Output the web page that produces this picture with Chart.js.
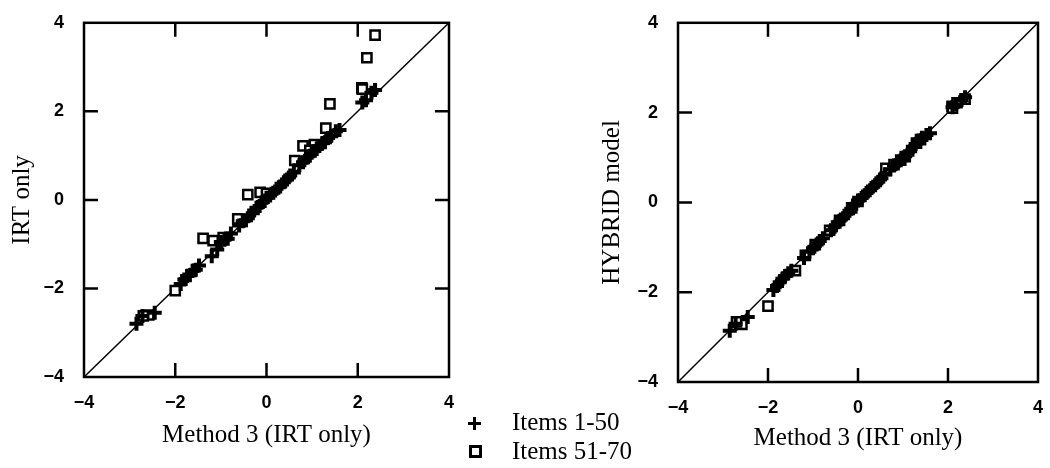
<!DOCTYPE html>
<html>
<head>
<meta charset="utf-8">
<script src="https://cdn.jsdelivr.net/npm/chart.js@4.4.0/dist/chart.umd.min.js"></script>
<style>
  body { margin: 0; background: #fff; width: 1050px; height: 468px; position: relative; overflow: hidden; }
  canvas { position: absolute; top: 0; }
  #left { left: 0; }
  #right { left: 580px; }
  .legend { position: absolute; left: 466px; font-family: "Liberation Serif", "Times New Roman", serif; font-size: 25px; color: #000; }
  .legend .row { position: relative; height: 28px; line-height: 28px; padding-left: 46px; white-space: nowrap; }
  .plus { position: absolute; left: 2px; top: 9px; width: 13px; height: 13px; }
  .plus:before { content: ""; position: absolute; left: 0; top: 5px; width: 13px; height: 3px; background: #000; }
  .plus:after { content: ""; position: absolute; left: 5px; top: 0; width: 3px; height: 13px; background: #000; }
  .square { position: absolute; left: 3px; top: 8px; width: 7px; height: 7px; border: 3px solid #000; }
</style>
</head>
<body>
<canvas id="left" width="470" height="468"></canvas>
<canvas id="right" width="470" height="468"></canvas>
<div class="legend" style="top:408px">
  <div class="row"><span class="plus"></span>Items 1-50</div>
  <div class="row" style="margin-top:1px"><span class="square"></span>Items 51-70</div>
</div>
<script>
// axis range and ticks (both panels)
var axisMin = -4, axisMax = 4, tickStep = 2;
var diagonal = [-4, 4];

// Items 1-50: Method 3 (IRT only) estimates
var items1X = [-2.85, -2.72, -2.45, -1.88, -1.80, -1.74, -1.68, -1.62, -1.55, -1.48,
               -1.20, -1.08, -1.00, -0.92, -0.85, -0.78, -0.60, -0.52, -0.45, -0.38,
               -0.30, -0.22, -0.15, -0.08, 0.00, 0.08, 0.15, 0.22, 0.30, 0.38,
               0.45, 0.52, 0.60, 0.72, 0.80, 0.88, 0.95, 1.02, 1.10, 1.16,
               1.22, 1.28, 1.35, 1.42, 1.52, 1.60, 2.10, 2.18, 2.30, 2.38];
// left panel: IRT only
var items1IRT = [-2.80, -2.62, -2.55, -1.90, -1.80, -1.72, -1.70, -1.60, -1.58, -1.48,
                 -1.27, -1.12, -0.95, -0.90, -0.88, -0.76, -0.58, -0.48, -0.46, -0.35,
                 -0.30, -0.18, -0.14, -0.05, 0.05, 0.10, 0.16, 0.25, 0.30, 0.40,
                 0.46, 0.55, 0.62, 0.78, 0.85, 0.95, 1.00, 1.10, 1.15, 1.22,
                 1.28, 1.30, 1.40, 1.45, 1.55, 1.58, 2.20, 2.25, 2.42, 2.48];
// right panel: HYBRID model
var items1Hybrid = [-2.86, -2.70, -2.55, -1.95, -1.86, -1.78, -1.70, -1.64, -1.58, -1.52,
                    -1.24, -1.10, -1.02, -0.94, -0.86, -0.80, -0.62, -0.54, -0.44, -0.38,
                    -0.30, -0.24, -0.14, -0.06, 0.04, 0.10, 0.16, 0.24, 0.32, 0.38,
                    0.46, 0.54, 0.62, 0.74, 0.82, 0.90, 0.94, 1.00, 1.06, 1.14,
                    1.24, 1.30, 1.38, 1.44, 1.50, 1.54, 2.12, 2.18, 2.28, 2.34];

// Items 51-70
var items2X = [2.38, 2.20, 2.09, 1.39, 1.30, 0.80, 0.62, -0.41, -0.14, -0.63,
               -1.39, -1.17, -2.00, -2.58, 1.05, 0.95, 0.00, 2.10, -0.95, -2.70];
var items2IRT = [3.72, 3.21, 2.53, 2.17, 1.62, 1.22, 0.89, 0.12, 0.17, -0.43,
                 -0.87, -0.92, -2.05, -2.60, 1.25, 1.12, 0.15, 2.50, -0.85, -2.62];
var items2Hybrid = [2.30, 2.22, 2.14, 1.40, 1.32, 0.84, 0.76, -0.40, -0.12, -0.62,
                    -1.52, -1.18, -2.31, -2.72, 1.02, 0.94, 0.02, 2.10, -0.94, -2.66];

function pairs(xs, ys) {
  return xs.map(function (x, i) { return {x: x, y: ys[i]}; });
}

function tickText(v) {
  return v < 0 ? '\u2212' + Math.abs(v) : String(v);
}

// box around the plot with short inward ticks on all four sides
var framePlugin = {
  id: 'frame',
  afterDraw: function (chart) {
    var ctx = chart.ctx, a = chart.chartArea;
    var xs = chart.scales.x, ys = chart.scales.y, len = 14;
    ctx.save();
    ctx.strokeStyle = '#000';
    ctx.lineWidth = 2.5;
    ctx.strokeRect(a.left, a.top, a.right - a.left, a.bottom - a.top);
    ctx.beginPath();
    xs.ticks.forEach(function (t) {
      if (t.value <= axisMin || t.value >= axisMax) return;
      var px = xs.getPixelForValue(t.value);
      ctx.moveTo(px, a.bottom); ctx.lineTo(px, a.bottom - len);
      ctx.moveTo(px, a.top); ctx.lineTo(px, a.top + len);
    });
    ys.ticks.forEach(function (t) {
      if (t.value <= axisMin || t.value >= axisMax) return;
      var py = ys.getPixelForValue(t.value);
      ctx.moveTo(a.left, py); ctx.lineTo(a.left + len, py);
      ctx.moveTo(a.right, py); ctx.lineTo(a.right - len, py);
    });
    ctx.stroke();
    ctx.restore();
  }
};

function makePanel(id, yTitle, plusY, squareY, geo) {
  var tickFont = {family: '"Liberation Sans", Arial, sans-serif', size: 18, weight: 'bold'};
  var titleFont = {family: '"Liberation Serif", "Times New Roman", serif', size: 25, lineHeight: 1};
  return new Chart(document.getElementById(id), {
    type: 'scatter',
    data: {
      datasets: [{
        label: 'Items 1-50',
        data: pairs(items1X, plusY),
        pointStyle: 'cross',
        pointRadius: 7,
        borderColor: '#000',
        borderWidth: 4
      }, {
        label: 'Items 51-70',
        data: pairs(items2X, squareY),
        pointStyle: 'rect',
        pointRadius: 6.5,
        borderColor: '#000',
        backgroundColor: '#fff',
        borderWidth: 2.5
      }, {
        label: 'y = x',
        data: pairs(diagonal, diagonal),
        showLine: true,
        pointRadius: 0,
        borderColor: '#000',
        borderWidth: 1.5
      }]
    },
    options: {
      responsive: false,
      animation: false,
      devicePixelRatio: 1,
      layout: {padding: {left: 0, top: geo.top, right: geo.right, bottom: 0}},
      plugins: {legend: {display: false}, tooltip: {enabled: false}},
      scales: {
        x: {
          type: 'linear', min: axisMin, max: axisMax,
          afterFit: function (s) { s.height = geo.xHeight; },
          grid: {display: false},
          border: {display: false},
          ticks: {stepSize: tickStep, color: '#000', font: tickFont, padding: 7, callback: tickText},
          title: {display: true, text: 'Method 3 (IRT only)', color: '#000', font: titleFont,
                  padding: {top: 0, bottom: geo.xTitlePad}}
        },
        y: {
          type: 'linear', min: axisMin, max: axisMax,
          afterFit: function (s) { s.width = geo.yWidth; },
          grid: {display: false},
          border: {display: false},
          ticks: {stepSize: tickStep, color: '#000', font: tickFont, padding: 12, callback: tickText},
          title: {display: true, text: yTitle, color: '#000', font: titleFont,
                  padding: {top: geo.yTitlePad, bottom: 0}}
        }
      }
    },
    plugins: [framePlugin]
  });
}

makePanel('left', 'IRT only', items1IRT, items2IRT,
  {top: 15, right: 21, xHeight: 91, yWidth: 84, xTitlePad: 20, yTitlePad: 10});
makePanel('right', 'HYBRID model', items1Hybrid, items2Hybrid,
  {top: 17, right: 7, xHeight: 86, yWidth: 98, xTitlePad: 17, yTitlePad: 20});
</script>
</body>
</html>
